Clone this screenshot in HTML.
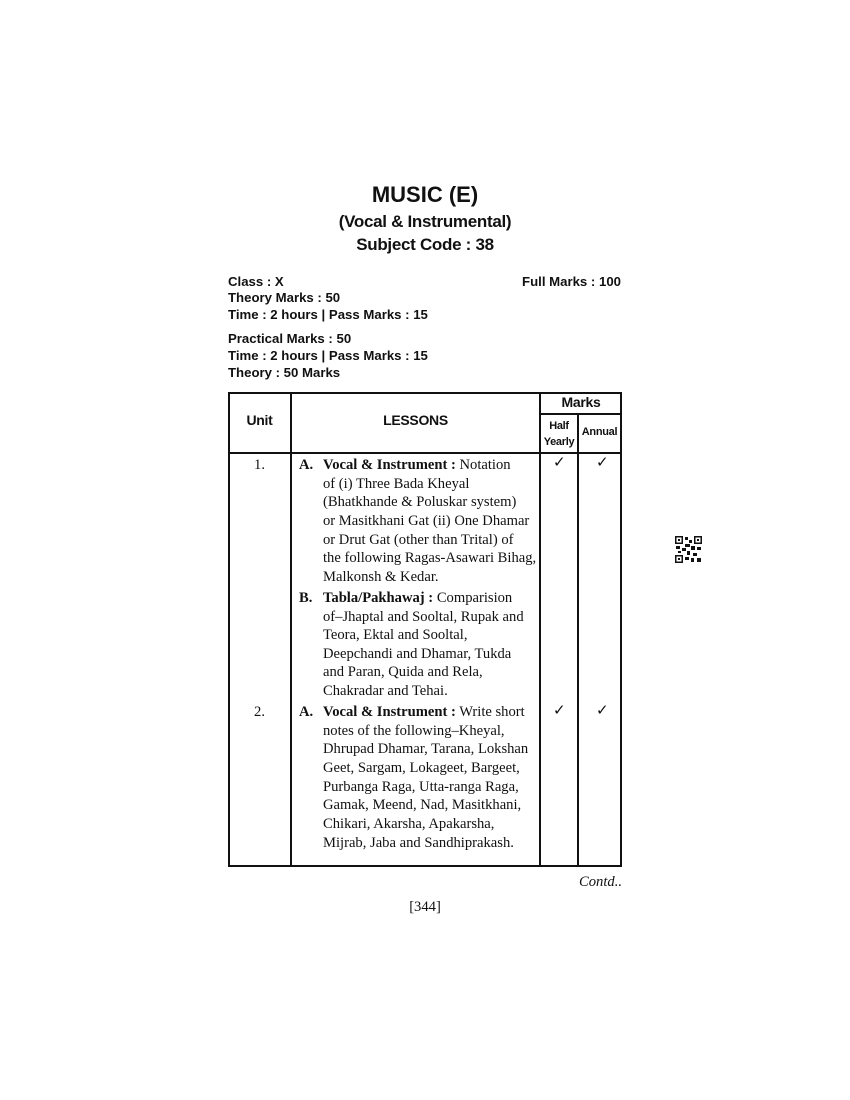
<!DOCTYPE html>
<html><head><meta charset="utf-8">
<style>
html,body{margin:0;padding:0;background:#fff;}
body{width:850px;height:1100px;position:relative;overflow:hidden;color:#111;}
.s{position:absolute;font-family:"Liberation Sans",sans-serif;font-weight:bold;white-space:nowrap;}
.c{left:0;width:850px;text-align:center;}
.i{left:228px;font-size:13.2px;}
.l{position:absolute;left:323px;font-family:"Liberation Serif",serif;font-size:14.6px;letter-spacing:0px;white-space:nowrap;line-height:18px;}
.lt{position:absolute;font-family:"Liberation Serif",serif;font-size:14.6px;font-weight:bold;line-height:18px;}
.hl{position:absolute;background:#111;height:2px;}
.vl{position:absolute;background:#111;width:2px;}
.ck{position:absolute;font-family:"DejaVu Sans",sans-serif;font-size:15px;font-weight:bold;line-height:18px;}
.n{position:absolute;font-family:"Liberation Serif",serif;font-size:14.6px;line-height:18px;}
b{font-weight:bold;}
</style></head><body>
<div class="s c" style="top:182px;font-size:22px;">MUSIC (E)</div>
<div class="s c" style="top:212px;font-size:17px;letter-spacing:-0.3px;">(Vocal &amp; Instrumental)</div>
<div class="s c" style="top:235px;font-size:17px;letter-spacing:-0.3px;">Subject Code : 38</div>

<div class="s i" style="top:274px;">Class : X</div>
<div class="s" style="top:274px;font-size:13.2px;right:229px;">Full Marks : 100</div>
<div class="s i" style="top:290px;">Theory Marks : 50</div>
<div class="s i" style="top:307px;">Time : 2 hours | Pass Marks : 15</div>
<div class="s i" style="top:331px;">Practical Marks : 50</div>
<div class="s i" style="top:348px;">Time : 2 hours | Pass Marks : 15</div>
<div class="s i" style="top:365px;">Theory : 50 Marks</div>

<div class="hl" style="left:228px;top:392px;width:394px;"></div>
<div class="hl" style="left:540px;top:413px;width:82px;"></div>
<div class="hl" style="left:228px;top:452px;width:394px;"></div>
<div class="hl" style="left:228px;top:865px;width:394px;"></div>
<div class="vl" style="left:228px;top:392px;height:475px;"></div>
<div class="vl" style="left:290px;top:392px;height:475px;"></div>
<div class="vl" style="left:539px;top:392px;height:475px;"></div>
<div class="vl" style="left:577px;top:413px;height:454px;"></div>
<div class="vl" style="left:620px;top:392px;height:475px;"></div>

<div class="s" style="left:228px;width:63px;text-align:center;top:412px;font-size:14px;letter-spacing:-0.3px;">Unit</div>
<div class="s" style="left:291px;width:249px;text-align:center;top:412px;font-size:14px;letter-spacing:-0.3px;">LESSONS</div>
<div class="s" style="left:540px;width:82px;text-align:center;top:394px;font-size:14px;letter-spacing:-0.3px;">Marks</div>
<div class="s" style="left:540px;width:38px;text-align:center;top:418px;font-size:11px;line-height:16px;letter-spacing:-0.3px;">Half<br>Yearly</div>
<div class="s" style="left:578px;width:43px;text-align:center;top:426px;font-size:11px;letter-spacing:-0.3px;">Annual</div>

<div class="n" style="left:228px;width:63px;text-align:center;top:456px;">1.</div>
<div class="n" style="left:228px;width:63px;text-align:center;top:703px;">2.</div>

<div class="ck" style="left:553px;top:453px;">✓</div>
<div class="ck" style="left:596px;top:453px;">✓</div>
<div class="ck" style="left:553px;top:701px;">✓</div>
<div class="ck" style="left:596px;top:701px;">✓</div>

<div class="lt" style="left:299px;top:456px;">A.</div>
<div class="l" style="top:456px;"><b>Vocal &amp; Instrument :</b> Notation</div>
<div class="l" style="top:475px;">of (i) Three Bada Kheyal</div>
<div class="l" style="top:493px;">(Bhatkhande &amp; Poluskar system)</div>
<div class="l" style="top:512px;">or Masitkhani Gat (ii) One Dhamar</div>
<div class="l" style="top:531px;">or Drut Gat (other than Trital) of</div>
<div class="l" style="top:549px;">the following Ragas-Asawari Bihag,</div>
<div class="l" style="top:568px;">Malkonsh &amp; Kedar.</div>

<div class="lt" style="left:299px;top:589px;">B.</div>
<div class="l" style="top:589px;"><b>Tabla/Pakhawaj :</b> Comparision</div>
<div class="l" style="top:608px;">of–Jhaptal and Sooltal, Rupak and</div>
<div class="l" style="top:626px;">Teora, Ektal and Sooltal,</div>
<div class="l" style="top:645px;">Deepchandi and Dhamar, Tukda</div>
<div class="l" style="top:663px;">and Paran, Quida and Rela,</div>
<div class="l" style="top:682px;">Chakradar and Tehai.</div>

<div class="lt" style="left:299px;top:703px;">A.</div>
<div class="l" style="top:703px;"><b>Vocal &amp; Instrument :</b> Write short</div>
<div class="l" style="top:722px;">notes of the following–Kheyal,</div>
<div class="l" style="top:740px;">Dhrupad Dhamar, Tarana, Lokshan</div>
<div class="l" style="top:759px;">Geet, Sargam, Lokageet, Bargeet,</div>
<div class="l" style="top:778px;">Purbanga Raga, Utta-ranga Raga,</div>
<div class="l" style="top:796px;">Gamak, Meend, Nad, Masitkhani,</div>
<div class="l" style="top:815px;">Chikari, Akarsha, Apakarsha,</div>
<div class="l" style="top:834px;">Mijrab, Jaba and Sandhiprakash.</div>

<div class="n" style="right:228px;top:873px;font-style:italic;">Contd..</div>
<div class="n" style="left:0;width:850px;text-align:center;top:898px;">[344]</div>

<svg style="position:absolute;left:675px;top:536px;" width="27" height="27" viewBox="0 0 27 27">
<g fill="#111">
<rect x="0" y="0" width="8" height="8"/><rect x="19" y="0" width="8" height="8"/><rect x="0" y="19" width="8" height="8"/>
</g>
<g fill="#fff">
<rect x="1.5" y="1.5" width="5" height="5"/><rect x="20.5" y="1.5" width="5" height="5"/><rect x="1.5" y="20.5" width="5" height="5"/>
</g>
<g fill="#111">
<rect x="3" y="3" width="2" height="2"/><rect x="22" y="3" width="2" height="2"/><rect x="3" y="22" width="2" height="2"/>
<rect x="10" y="1" width="3" height="3"/><rect x="14" y="4" width="3" height="3"/><rect x="10" y="8" width="5" height="3"/>
<rect x="1" y="10" width="4" height="3"/><rect x="7" y="12" width="4" height="3"/><rect x="16" y="10" width="4" height="4"/>
<rect x="22" y="11" width="4" height="3"/><rect x="12" y="15" width="3" height="4"/><rect x="18" y="17" width="4" height="3"/>
<rect x="10" y="21" width="4" height="3"/><rect x="16" y="22" width="3" height="4"/><rect x="22" y="22" width="4" height="4"/>
<rect x="3" y="15" width="3" height="2"/>
</g>
</svg>
</body></html>
